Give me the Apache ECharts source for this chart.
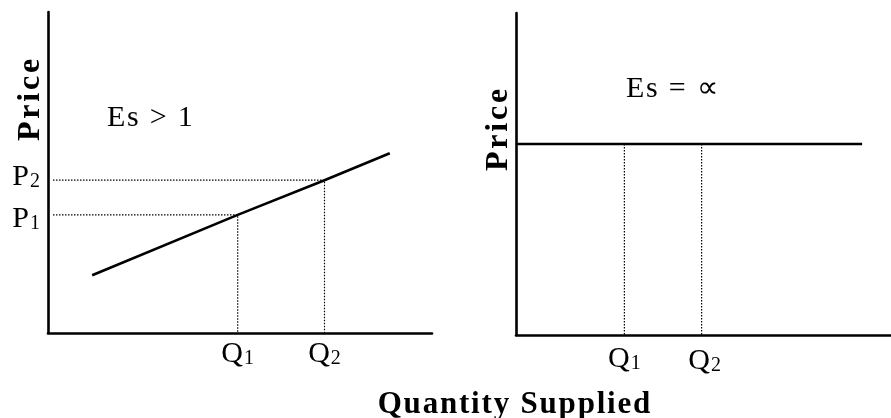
<!DOCTYPE html>
<html>
<head>
<meta charset="utf-8">
<script src="https://cdn.jsdelivr.net/npm/echarts@6/dist/echarts.min.js"></script>
<style>
  html, body { margin: 0; padding: 0; background: #fff; }
  #chart { width: 891px; height: 418px; }
</style>
</head>
<body>
<div id="chart"></div>
<script>
// Left panel: upward-sloping supply curve (Es > 1)
const supplyLeft = [[11.5, 18.0], [89.0, 56.0]];
const qLeft = [49.4, 72.0];      // Q1, Q2
const pLeft = [36.8, 47.6];      // P1, P2 (on the curve at Q1, Q2)
const guideStartX = 1.3;

// Right panel: perfectly elastic supply (horizontal line)
const priceFlat = 59.3;
const supplyRightX = [0, 92.3];
const qRight = [28.9, 49.5];     // Q1, Q2

const subs = ['1', '2'];
const serif = "'Liberation Serif','Times New Roman',serif";

const ink = '#000';
const thick = 2.6;

// spread letters apart with rich-text padding
function spaced(str, key) {
  return str.split('').map(c => '{' + key + '|' + c + '}').join('');
}

const subRich = {
  m: { fontFamily: serif, fontSize: 30, color: ink },
  s: { fontFamily: serif, fontSize: 20, color: ink, verticalAlign: 'bottom', padding: [0, 0, 0, 1] }
};

function axisStyle(grid) {
  return {
    type: 'value', gridIndex: grid, min: 0, max: 100,
    axisLine: { show: true, onZero: false, lineStyle: { color: ink, width: thick } },
    axisTick: { show: false }, axisLabel: { show: false }, splitLine: { show: false }
  };
}

const dotted = { color: ink, width: 1.2, type: [1.5, 1.5] };

const series = [];

// left supply curve through (Q1,P1) and (Q2,P2)
series.push({
  type: 'line', xAxisIndex: 0, yAxisIndex: 0, showSymbol: false, silent: true,
  data: [supplyLeft[0], [qLeft[0], pLeft[0]], [qLeft[1], pLeft[1]], supplyLeft[1]],
  lineStyle: { color: ink, width: thick }
});
// left dotted guides
qLeft.forEach((q, i) => {
  series.push({
    type: 'line', xAxisIndex: 0, yAxisIndex: 0, showSymbol: false, silent: true,
    data: [[guideStartX, pLeft[i]], [q, pLeft[i]], [q, 0]],
    lineStyle: dotted
  });
});

const labelSeriesBase = {
  type: 'scatter', symbolSize: 0, silent: true,
  itemStyle: { opacity: 1, color: ink }
};

// left Q labels
series.push(Object.assign({}, labelSeriesBase, {
  xAxisIndex: 0, yAxisIndex: 0,
  data: qLeft.map((q, i) => ({ value: [q, 0], name: subs[i] })),
  label: {
    show: true, position: 'bottom', distance: 6, opacity: 1,
    formatter: p => '{m|Q}{s|' + p.name + '}', rich: subRich
  }
}));
// left P labels
series.push(Object.assign({}, labelSeriesBase, {
  xAxisIndex: 0, yAxisIndex: 0,
  data: pLeft.map((p, i) => ({ value: [0, p], name: subs[i], label: { offset: [0, i === 0 ? 4 : -3] } })),
  label: {
    show: true, position: 'left', distance: 8, opacity: 1,
    formatter: p => '{m|P}{s|' + p.name + '}', rich: subRich
  }
}));

// right horizontal supply
series.push({
  type: 'line', xAxisIndex: 1, yAxisIndex: 1, showSymbol: false, silent: true,
  data: supplyRightX.map(x => [x, priceFlat]),
  lineStyle: { color: ink, width: thick }
});
// right dotted guides
qRight.forEach(q => {
  series.push({
    type: 'line', xAxisIndex: 1, yAxisIndex: 1, showSymbol: false, silent: true,
    data: [[q, priceFlat], [q, 0]],
    lineStyle: dotted
  });
});
// right Q labels
series.push(Object.assign({}, labelSeriesBase, {
  xAxisIndex: 1, yAxisIndex: 1,
  data: qRight.map((q, i) => ({ value: [q, 0], name: subs[i], label: { offset: [i === 0 ? 0 : 3, i === 0 ? 0 : 2] } })),
  label: {
    show: true, position: 'bottom', distance: 9, opacity: 1,
    formatter: p => '{m|Q}{s|' + p.name + '}', rich: subRich
  }
}));

const boldRich = {
  b: { fontFamily: serif, fontSize: 32, fontWeight: 'bold', color: ink, padding: [0, 1.4, 0, 1.4] }
};
const boldRichQ = {
  b: { fontFamily: serif, fontSize: 31, fontWeight: 'bold', color: ink, padding: [0, 0.9, 0, 0.9] }
};
const plainRich = {
  t: { fontFamily: serif, fontSize: 30, color: ink, padding: [0, 0.9, 0, 0.9] }
};

function textEl(x, y, str, rich, key, align, rot) {
  return {
    type: 'text', x: x, y: y, rotation: rot || 0, silent: true,
    style: {
      text: spaced(str, key), rich: rich,
      textAlign: align, textVerticalAlign: 'middle',
      align: align, verticalAlign: 'middle'
    }
  };
}

const option = {
  backgroundColor: '#fff',
  animation: false,
  grid: [
    { left: 48, top: 12, width: 384, height: 321 },
    { left: 516, top: 13, width: 375, height: 322 }
  ],
  xAxis: [axisStyle(0), axisStyle(1)],
  yAxis: [axisStyle(0), axisStyle(1)],
  series: series,
  graphic: [
    textEl(31, 100, 'Price', boldRich, 'b', 'center', Math.PI / 2),
    textEl(499, 130, 'Price', boldRich, 'b', 'center', Math.PI / 2),
    textEl(514, 405, 'Quantity Supplied', boldRichQ, 'b', 'center'),
    textEl(106, 118, 'Es > 1', plainRich, 't', 'left'),
    textEl(625, 89, 'Es = \u221D', plainRich, 't', 'left')
  ]
};

const chart = echarts.init(document.getElementById('chart'), null, { renderer: 'canvas' });
chart.setOption(option);
</script>
</body>
</html>
